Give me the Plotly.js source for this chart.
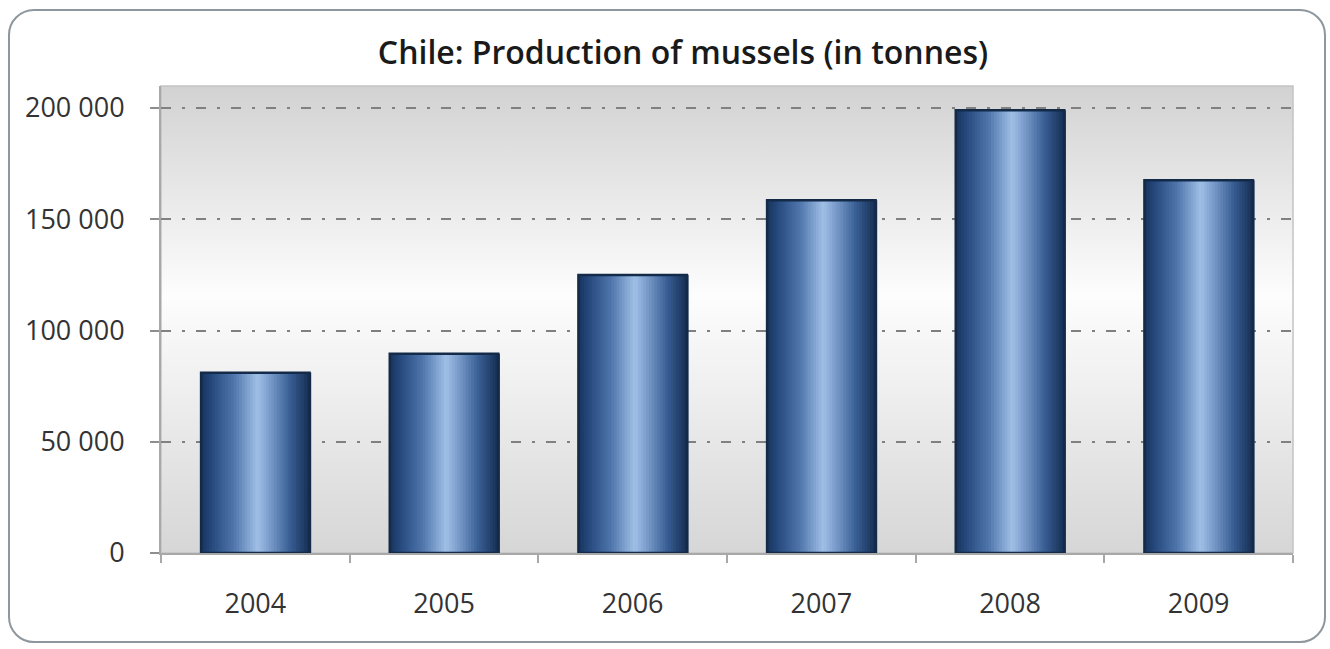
<!DOCTYPE html>
<html>
<head>
<meta charset="utf-8">
<script src="https://cdn.plot.ly/plotly-3.0.1.min.js"></script>
<style>
  html, body { margin: 0; padding: 0; background: #ffffff; }
  #wrap { position: relative; width: 1330px; height: 649px; overflow: hidden; }
  #frame {
    position: absolute; left: 8px; top: 9px; width: 1318px; height: 634px;
    box-sizing: border-box; border: 2px solid #8d979d; border-radius: 26px;
    background: #ffffff;
  }
  #chart { position: absolute; left: 0; top: 0; width: 1330px; height: 649px; }
</style>
</head>
<body>
<div id="wrap">
  <div id="frame"></div>
  <div id="chart"></div>
</div>
<script>
// Mussel production in Chile, tonnes per year
const years = ['2004', '2005', '2006', '2007', '2008', '2009'];
const tonnes = [81000, 89500, 125000, 158500, 199000, 167500];
const yTicks = [0, 50000, 100000, 150000, 200000];
const chartTitle = 'Chile: Production of mussels (in tonnes)';

// Cylinder shading across each bar (position 0..1 from left edge -> colour)
const shadeStops = [
  [0.00, [24, 52, 92]],
  [0.10, [38, 74, 126]],
  [0.30, [78, 117, 171]],
  [0.52, [160, 192, 230]],
  [0.62, [126, 160, 206]],
  [0.82, [56, 94, 148]],
  [1.00, [22, 46, 82]]
];

function shadeAt(t) {
  for (let i = 1; i < shadeStops.length; i++) {
    const [p1, c1] = shadeStops[i];
    const [p0, c0] = shadeStops[i - 1];
    if (t <= p1) {
      const f = (t - p0) / (p1 - p0);
      const c = c0.map((v, k) => Math.round(v + (c1[k] - v) * f));
      return 'rgb(' + c.join(',') + ')';
    }
  }
  const last = shadeStops[shadeStops.length - 1][1];
  return 'rgb(' + last.join(',') + ')';
}

const barWidth = 0.575;
const strips = 40;
const stripW = barWidth / strips;
const traces = [];

for (let i = 0; i < strips; i++) {
  traces.push({
    type: 'bar',
    x: years,
    y: tonnes,
    width: stripW * 1.6,
    offset: -barWidth / 2 + i * stripW,
    marker: { color: shadeAt((i + 0.5) / strips), line: { width: 0 } },
    hoverinfo: 'skip',
    showlegend: false
  });
}

// dark rim around each bar
traces.push({
  type: 'bar',
  x: years,
  y: tonnes,
  width: barWidth,
  offset: -barWidth / 2,
  marker: { color: 'rgba(0,0,0,0)', line: { color: '#132a48', width: 2.5 } },
  hovertemplate: '%{x}: %{y:,d} t<extra></extra>',
  showlegend: false
});

// vertical grey -> white -> grey wash for the plotting area
const bgSvg =
  '<svg xmlns="http://www.w3.org/2000/svg" width="100" height="100" preserveAspectRatio="none">' +
  '<defs><linearGradient id="g" x1="0" y1="0" x2="0" y2="1">' +
  '<stop offset="0" stop-color="#d2d2d2"/>' +
  '<stop offset="0.45" stop-color="#fdfdfd"/>' +
  '<stop offset="1" stop-color="#d6d6d6"/>' +
  '</linearGradient></defs>' +
  '<rect width="100" height="100" fill="url(#g)"/></svg>';

const layout = {
  width: 1330,
  height: 649,
  margin: { l: 161, r: 37, t: 86, b: 96, pad: 0 },
  paper_bgcolor: 'rgba(0,0,0,0)',
  plot_bgcolor: 'rgba(0,0,0,0)',
  barmode: 'overlay',
  separators: '. ',
  font: { family: 'Open Sans, sans-serif', color: '#333333', size: 27 },
  title: {
    text: chartTitle,
    x: 683 / 1330,
    xref: 'container',
    xanchor: 'center',
    y: 1 - 53 / 649,
    yref: 'container',
    yanchor: 'middle',
    font: { family: 'Open Sans, sans-serif', size: 32, color: '#1a1a1a', weight: 600 }
  },
  xaxis: {
    type: 'category',
    tickson: 'boundaries',
    ticks: 'outside',
    ticklen: 8,
    tickcolor: '#a8a8a8',
    tickwidth: 1.5,
    showline: true,
    linecolor: '#a8a8a8',
    linewidth: 1.5,
    showgrid: false,
    ticklabelstandoff: 26,
    tickfont: { size: 27, color: '#333333' },
    fixedrange: true
  },
  yaxis: {
    range: [0, 209900],
    tickvals: yTicks,
    tickformat: ',d',
    ticks: 'outside',
    ticklen: 9,
    tickcolor: '#8e8e8e',
    tickwidth: 1.5,
    showline: true,
    linecolor: '#a8a8a8',
    linewidth: 2,
    showgrid: true,
    gridcolor: '#808080',
    gridwidth: 2,
    griddash: '10px,11px,3px,11px',
    zeroline: false,
    ticklabelstandoff: 20,
    tickfont: { size: 27, color: '#333333' },
    fixedrange: true
  },
  images: [{
    source: 'data:image/svg+xml;charset=utf-8,' + encodeURIComponent(bgSvg),
    xref: 'paper', yref: 'paper',
    x: 0, y: 1, sizex: 1, sizey: 1,
    xanchor: 'left', yanchor: 'top',
    sizing: 'stretch',
    layer: 'below'
  }],
  shapes: [{
    type: 'rect', xref: 'paper', yref: 'paper',
    x0: 0, x1: 1, y0: 0, y1: 1,
    line: { color: '#c4c4c4', width: 1.5 },
    layer: 'below'
  }]
};

Plotly.newPlot('chart', traces, layout, { displayModeBar: false, staticPlot: false });
</script>
</body>
</html>
